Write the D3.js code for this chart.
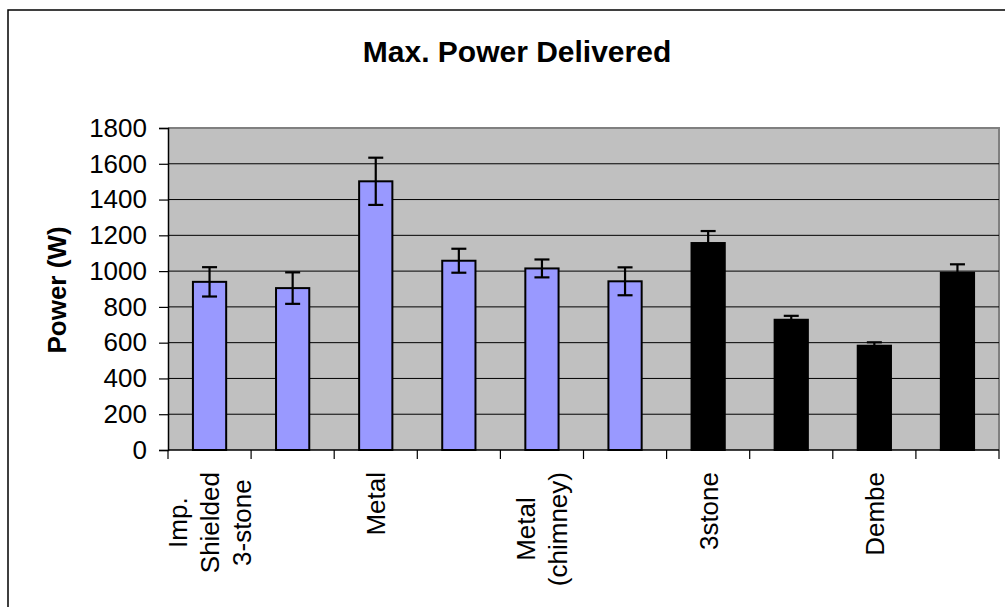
<!DOCTYPE html>
<html>
<head>
<meta charset="utf-8">
<script src="https://cdn.jsdelivr.net/npm/d3@7"></script>
<style>
  body { margin: 0; background: #fff; }
  text { font-family: "Liberation Sans", Arial, sans-serif; fill: #000; }
</style>
</head>
<body>
<div class="svg-container"></div>
<script>
// data
const categories = ["Imp. Shielded 3-stone", "b", "Metal", "d", "Metal (chimney)", "f", "3stone", "h", "Dembe", "j"];
const tickLabels = [["Imp.", "Shielded", "3-stone"], [], ["Metal"], [], ["Metal", "(chimney)"], [], ["3stone"], [], ["Dembe"], []];
const power = [940, 905, 1502, 1058, 1015, 943, 1157, 728, 583, 991];
const errors = [82, 88, 132, 67, 50, 78, 67, 22, 19, 47];
const groups = ["improved", "improved", "improved", "improved", "improved", "improved", "traditional", "traditional", "traditional", "traditional"];
const yTicks = [0, 200, 400, 600, 800, 1000, 1200, 1400, 1600, 1800];

const w = 1005, h = 607;
const plotLeft = 168, plotRight = 999, plotTop = 128, plotBottom = 450;

const svg = d3.select(".svg-container")
  .append("svg")
  .attr("width", w)
  .attr("height", h);

// chart area border (only top and left fall inside the picture)
svg.append("rect")
  .attr("x", 8).attr("y", 10)
  .attr("width", 1100).attr("height", 800)
  .attr("fill", "none")
  .attr("stroke", "#000")
  .attr("stroke-width", 1.5);

const xScale = d3.scaleBand()
  .domain(categories)
  .range([plotLeft, plotRight])
  .paddingInner(0.6)
  .paddingOuter(0.3);

const yScale = d3.scaleLinear()
  .domain([0, 1800])
  .range([plotBottom, plotTop]);

const color = d3.scaleOrdinal()
  .domain(["improved", "traditional"])
  .range(["#9999FF", "#000000"]);

// plot area
svg.append("rect")
  .attr("x", plotLeft).attr("y", plotTop)
  .attr("width", plotRight - plotLeft).attr("height", plotBottom - plotTop)
  .attr("fill", "#C0C0C0");

svg.append("path")
  .attr("d", "M" + plotLeft + "," + plotTop + "H" + plotRight + "V" + plotBottom)
  .attr("fill", "none")
  .attr("stroke", "#808080")
  .attr("stroke-width", 2);

// gridlines
svg.selectAll("line.grid")
  .data(yTicks.filter(d => d > 0 && d < 1800))
  .enter()
  .append("line")
  .attr("class", "grid")
  .attr("x1", plotLeft).attr("x2", plotRight)
  .attr("y1", d => yScale(d)).attr("y2", d => yScale(d))
  .attr("stroke", "#000")
  .attr("stroke-width", 1);

// y axis
const yAxis = d3.axisLeft(yScale)
  .tickValues(yTicks)
  .tickFormat(d3.format("d"))
  .tickSize(9)
  .tickPadding(12);

const gy = svg.append("g")
  .attr("id", "y-axis")
  .attr("transform", "translate(" + plotLeft + ",0)")
  .call(yAxis);
gy.select(".domain").attr("stroke", "#000").attr("stroke-width", 1.5);
gy.selectAll(".tick line").attr("stroke", "#000").attr("stroke-width", 1.2);
gy.selectAll(".tick text")
  .style("font-family", "'Liberation Sans', Arial, sans-serif")
  .style("font-size", "26px")
  .attr("fill", "#000");

// x axis: ticks on category boundaries
const step = xScale.step();
const xTicks = d3.range(categories.length + 1).map(i => plotLeft + i * step);
svg.selectAll("line.xtick")
  .data(xTicks)
  .enter()
  .append("line")
  .attr("class", "xtick")
  .attr("x1", d => d).attr("x2", d => d)
  .attr("y1", plotBottom).attr("y2", plotBottom + 9)
  .attr("stroke", "#000")
  .attr("stroke-width", 1.2);

svg.append("line")
  .attr("x1", plotLeft).attr("x2", plotRight)
  .attr("y1", plotBottom).attr("y2", plotBottom)
  .attr("stroke", "#000")
  .attr("stroke-width", 1.5);

// bars
svg.selectAll("rect.bar")
  .data(power)
  .enter()
  .append("rect")
  .attr("class", "bar")
  .attr("x", (d, i) => xScale(categories[i]))
  .attr("y", d => yScale(d))
  .attr("width", xScale.bandwidth())
  .attr("height", d => yScale(0) - yScale(d))
  .attr("fill", (d, i) => color(groups[i]))
  .attr("stroke", "#000")
  .attr("stroke-width", 2);

// error bars
const capW = 7.5;
const err = svg.selectAll("g.err")
  .data(power)
  .enter()
  .append("g")
  .attr("class", "err")
  .attr("transform", (d, i) => "translate(" + (xScale(categories[i]) + xScale.bandwidth() / 2) + ",0)");

err.append("line")
  .attr("x1", 0).attr("x2", 0)
  .attr("y1", (d, i) => yScale(d + errors[i]))
  .attr("y2", (d, i) => yScale(d - errors[i]))
  .attr("stroke", "#000").attr("stroke-width", 2.2);
err.append("line")
  .attr("x1", -capW).attr("x2", capW)
  .attr("y1", (d, i) => yScale(d + errors[i]))
  .attr("y2", (d, i) => yScale(d + errors[i]))
  .attr("stroke", "#000").attr("stroke-width", 2.2);
err.append("line")
  .attr("x1", -capW).attr("x2", capW)
  .attr("y1", (d, i) => yScale(d - errors[i]))
  .attr("y2", (d, i) => yScale(d - errors[i]))
  .attr("stroke", "#000").attr("stroke-width", 2.2);

// category labels, rotated, block anchored just under the axis
const labelTop = 472, lineGap = 32;
tickLabels.forEach(function (lines, i) {
  if (!lines.length) return;
  const cx = xScale(categories[i]) + xScale.bandwidth() / 2;
  const g = svg.append("g");
  const texts = lines.map(function (line, j) {
    const colX = cx + (j - (lines.length - 1) / 2) * lineGap;
    return g.append("text")
      .attr("transform", "translate(" + colX + ",0) rotate(-90)")
      .attr("dy", "0.36em")
      .attr("text-anchor", "middle")
      .style("font-size", "26px")
      .text(line);
  });
  const longest = d3.max(texts, t => t.node().getComputedTextLength());
  texts.forEach(t => t.attr("x", -(labelTop + longest / 2)));
});

// titles
svg.append("text")
  .attr("x", 517)
  .attr("y", 62)
  .attr("text-anchor", "middle")
  .style("font-size", "30px")
  .style("font-weight", "bold")
  .text("Max. Power Delivered");

svg.append("text")
  .attr("transform", "translate(66,290) rotate(-90)")
  .attr("text-anchor", "middle")
  .style("font-size", "26px")
  .style("font-weight", "bold")
  .text("Power (W)");
</script>
</body>
</html>
